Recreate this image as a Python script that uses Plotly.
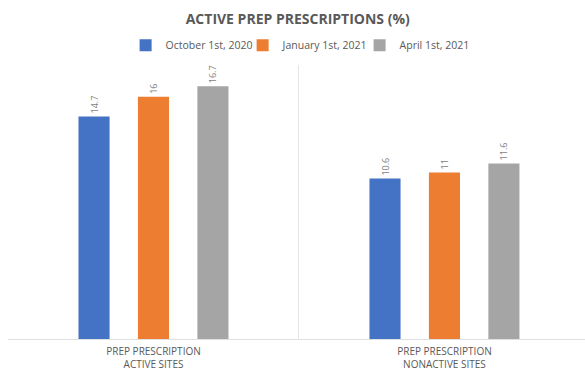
import plotly.graph_objects as go

categories = ["PREP PRESCRIPTION<br>ACTIVE SITES", "PREP PRESCRIPTION<br>NONACTIVE SITES"]
series_names = ["October 1st, 2020", "January 1st, 2021", "April 1st, 2021"]
oct_2020 = [14.7, 10.6]
jan_2021 = [16, 11]
apr_2021 = [16.7, 11.6]
colors = ["#4472C4", "#ED7D31", "#A5A5A5"]

FONT = "Open Sans"
fig = go.Figure()
for name, vals, col in zip(series_names, [oct_2020, jan_2021, apr_2021], colors):
    fig.add_trace(go.Bar(
        x=categories, y=vals, name=name, marker=dict(color=col, line=dict(width=0)),
        text=[str(v) for v in vals], textposition="outside", textangle=-90,
        textfont=dict(family=FONT, size=9, color="#7f7f7f"), cliponaxis=False,
    ))

fig.update_layout(
    width=585, height=371,
    margin=dict(l=8, r=0, t=65, b=28),
    paper_bgcolor="white", plot_bgcolor="white",
    barmode="group", bargap=0.387, bargroupgap=0.477,
    font=dict(family=FONT, color="#595959"),
    title=dict(text="<b>ACTIVE PREP PRESCRIPTIONS (%)</b>", x=0.509, xanchor="center",
               y=0.949, yanchor="middle", font=dict(family=FONT, size=14, color="#595959")),
    legend=dict(orientation="h", x=0.508, xanchor="center", y=1.072, yanchor="middle",
                font=dict(family=FONT, size=10.5, color="#595959"), itemwidth=30,
                entrywidth=72, entrywidthmode="pixels",
                traceorder="normal"),
    showlegend=True,
)
fig.update_xaxes(
    range=[-0.5, 1.483], tickson="boundaries", showgrid=True, gridcolor="#e4e4e4", gridwidth=1,
    showline=True, linecolor="#e0e0e0", linewidth=1, ticks="", zeroline=False,
    tickfont=dict(family=FONT, size=10, color="#595959"), ticklabelstandoff=3,
)
fig.update_yaxes(range=[0, 18.1], visible=False, showgrid=False, zeroline=False)

fig.write_html("out.html")
